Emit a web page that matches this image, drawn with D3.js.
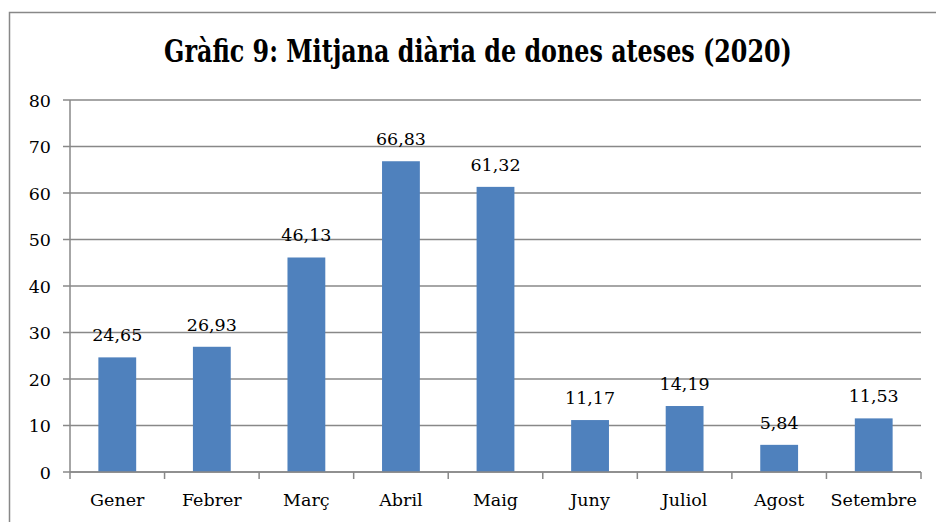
<!DOCTYPE html>
<html>
<head>
<meta charset="utf-8">
<script src="https://cdn.jsdelivr.net/npm/d3@7"></script>
<style>
  body { margin: 0; background: #fff; }
  svg { display: block; }
  text { font-family: "DejaVu Serif", "Liberation Serif", serif; fill: #000; }
</style>
</head>
<body>
<svg id="chart" width="936" height="522"></svg>
<script>
// dades llegides del gràfic
const months = ["Gener", "Febrer", "Març", "Abril", "Maig", "Juny", "Juliol", "Agost", "Setembre"];
const values = [24.65, 26.93, 46.13, 66.83, 61.32, 11.17, 14.19, 5.84, 11.53];
const yTicks = [0, 10, 20, 30, 40, 50, 60, 70, 80];

const svg = d3.select("#chart");
const plotLeft = 70, plotRight = 921, plotTop = 100, plotBottom = 472;
const labelSize = "17.5px";

// chart border
svg.append("rect")
  .attr("x", 9.5).attr("y", 12.5)
  .attr("width", 940).attr("height", 530)
  .attr("fill", "none")
  .attr("stroke", "#888").attr("stroke-width", 1.5);

// title: squeeze horizontally to the reference width with a transform
const title = svg.append("text")
  .attr("text-anchor", "middle")
  .attr("font-family", "DejaVu Serif Condensed, DejaVu Serif")
  .attr("font-size", 31)
  .attr("font-weight", "bold")
  .text("Gràfic 9: Mitjana diària de dones ateses (2020)");
const natural = title.node().getComputedTextLength();
const sx = Math.min(1, 628 / natural);
title.attr("transform", "translate(478,62) scale(" + sx + ",1)");

const x = d3.scaleBand()
  .domain(months)
  .range([plotLeft, plotRight])
  .paddingInner(0.6)
  .paddingOuter(0.3);

const xCat = d3.scaleBand().domain(months).range([plotLeft, plotRight]);

const y = d3.scaleLinear().domain([0, 80]).range([plotBottom, plotTop]);

// gridlines
svg.append("g")
  .selectAll("line")
  .data(yTicks)
  .join("line")
  .attr("x1", plotLeft - 7).attr("x2", plotRight)
  .attr("y1", d => y(d)).attr("y2", d => y(d))
  .attr("stroke", "#888").attr("stroke-width", 1.5);

svg.append("g")
  .selectAll("text")
  .data(yTicks)
  .join("text")
  .attr("x", 51).attr("y", d => y(d) + 6.5)
  .attr("text-anchor", "end")
  .style("font-size", labelSize)
  .text(d => d);

// y axis line
svg.append("line")
  .attr("x1", plotLeft).attr("x2", plotLeft)
  .attr("y1", plotTop).attr("y2", plotBottom)
  .attr("stroke", "#888").attr("stroke-width", 1.5);

// bars
svg.append("g")
  .selectAll("rect")
  .data(values)
  .join("rect")
  .attr("x", (d, i) => x(months[i]))
  .attr("y", d => y(d))
  .attr("width", x.bandwidth())
  .attr("height", d => plotBottom - y(d))
  .attr("fill", "#4F81BD");

svg.append("g")
  .selectAll("text")
  .data(values)
  .join("text")
  .attr("x", (d, i) => x(months[i]) + x.bandwidth() / 2)
  .attr("y", d => y(d) - 16)
  .attr("text-anchor", "middle")
  .style("font-size", labelSize)
  .text(d => d.toFixed(2).replace(".", ","));

// x axis
svg.append("line")
  .attr("x1", plotLeft).attr("x2", plotRight)
  .attr("y1", plotBottom).attr("y2", plotBottom)
  .attr("stroke", "#888").attr("stroke-width", 1.5);

const edges = months.map(m => xCat(m)).concat([plotRight]);
svg.append("g")
  .selectAll("line")
  .data(edges)
  .join("line")
  .attr("x1", d => d).attr("x2", d => d)
  .attr("y1", plotBottom).attr("y2", plotBottom + 7)
  .attr("stroke", "#888").attr("stroke-width", 1.5);

svg.append("g")
  .selectAll("text")
  .data(months)
  .join("text")
  .attr("x", d => xCat(d) + xCat.bandwidth() / 2)
  .attr("y", 506)
  .attr("text-anchor", "middle")
  .style("font-size", labelSize)
  .text(d => d);
</script>
</body>
</html>
